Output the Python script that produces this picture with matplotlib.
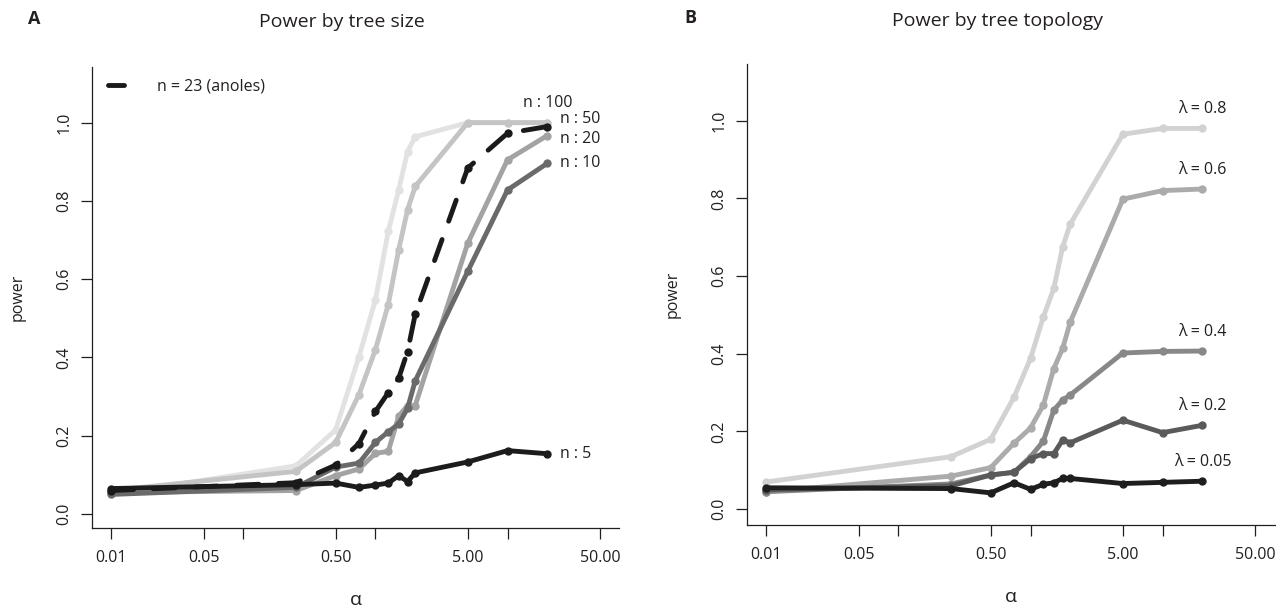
import numpy as np
import matplotlib
matplotlib.use('Agg')
import matplotlib.pyplot as plt
from matplotlib.lines import Line2D

plt.rcParams['font.family'] = ['Open Sans', 'DejaVu Sans']

# alpha values used in the simulations
alpha = [0.01, 0.25, 0.5, 0.75, 1, 1.25, 1.5, 1.75, 2, 5, 10, 20]

# panel A: power by tree size
size_labels = ['n : 100', 'n : 50', 'n : 20', 'n : 10', 'n : 5']
size_cols = ['#e2e2e2', '#c4c4c4', '#a3a3a3', '#6a6a6a', '#1c1c1c']
pow_n100 = [0.050, 0.123, 0.215, 0.402, 0.547, 0.722, 0.828, 0.926, 0.964, 1.0, 1.0, 1.0]
pow_n50 = [0.060, 0.109, 0.183, 0.305, 0.420, 0.535, 0.675, 0.777, 0.837, 1.0, 1.0, 1.0]
pow_n20 = [0.055, 0.060, 0.098, 0.115, 0.155, 0.160, 0.250, 0.277, 0.277, 0.692, 0.905, 0.967]
pow_n10 = [0.050, 0.068, 0.120, 0.130, 0.183, 0.210, 0.230, 0.270, 0.340, 0.620, 0.828, 0.896]
pow_n5 = [0.065, 0.075, 0.079, 0.068, 0.074, 0.079, 0.098, 0.083, 0.105, 0.133, 0.162, 0.154]
size_power = [pow_n100, pow_n50, pow_n20, pow_n10, pow_n5]

anoles_label = 'n = 23 (anoles)'
pow_anoles = [0.060, 0.080, 0.125, 0.180, 0.262, 0.310, 0.347, 0.415, 0.510, 0.884, 0.973, 0.990]

# panel B: power by tree topology
lam_labels = ['λ = 0.8', 'λ = 0.6', 'λ = 0.4', 'λ = 0.2', 'λ = 0.05']
lam_cols = ['#d2d2d2', '#ababab', '#888888', '#5a5a5a', '#1e1e1e']
pow_l08 = [0.070, 0.135, 0.180, 0.288, 0.388, 0.495, 0.568, 0.675, 0.734, 0.965, 0.980, 0.980]
pow_l06 = [0.045, 0.085, 0.107, 0.170, 0.209, 0.268, 0.362, 0.414, 0.482, 0.798, 0.820, 0.824]
pow_l04 = [0.045, 0.065, 0.088, 0.095, 0.135, 0.175, 0.255, 0.281, 0.294, 0.402, 0.406, 0.407]
pow_l02 = [0.050, 0.060, 0.088, 0.095, 0.130, 0.143, 0.143, 0.178, 0.171, 0.229, 0.197, 0.216]
pow_l005 = [0.055, 0.053, 0.042, 0.068, 0.051, 0.064, 0.068, 0.079, 0.079, 0.066, 0.069, 0.072]
lam_power = [pow_l08, pow_l06, pow_l04, pow_l02, pow_l005]

xticks = [0.01, 0.05, 0.1, 0.5, 1, 5, 10, 50]
xticklabels = ['0.01', '0.05', '', '0.50', '', '5.00', '', '50.00']
yticks = [0.0, 0.2, 0.4, 0.6, 0.8, 1.0]

LW = 3.5
MS = 5.0
INK = '#231f20'
FS = 11.5


def style_axes(ax, ylim):
    ax.set_xscale('log')
    ax.set_xlim(10 ** -2.148, 10 ** 1.847)
    ax.set_ylim(*ylim)
    ax.spines['top'].set_visible(False)
    ax.spines['right'].set_visible(False)
    for s in ('left', 'bottom'):
        ax.spines[s].set_linewidth(0.9)
        ax.spines[s].set_color(INK)
    ax.set_xticks(xticks)
    ax.set_xticklabels(xticklabels)
    ax.xaxis.set_minor_locator(matplotlib.ticker.NullLocator())
    ax.set_yticks(yticks)
    ax.set_yticklabels([f'{v:.1f}' for v in yticks], rotation=90, va='center')
    ax.tick_params(length=8, width=0.9, color=INK, labelsize=FS, labelcolor=INK)
    ax.tick_params(axis='x', pad=8)
    ax.tick_params(axis='y', pad=6)
    ax.text(0.5, -0.157, 'α', transform=ax.transAxes, ha='center', va='center',
            fontsize=14, color=INK)
    ax.text(-0.141, 0.5, 'power', transform=ax.transAxes, ha='center', va='center',
            rotation=90, fontsize=FS, color=INK)


fig = plt.figure(figsize=(12.76, 6.09), dpi=100)

# ---- A ----
axA = fig.add_axes([0.0719, 0.1335, 0.4135, 0.757])
style_axes(axA, (-0.035, 1.143))
# n:50 and n:20 end almost on top of each other, nudge them apart a little
nudge = {'n : 50': 2.5, 'n : 20': -2.5}
for lab, col, pw in zip(size_labels, size_cols, size_power):
    axA.plot(alpha, pw, color=col, lw=LW, marker='o', ms=MS, mec=col, mfc=col,
             solid_capstyle='round', solid_joinstyle='round', zorder=2)
    if lab == 'n : 100':
        axA.annotate(lab, (alpha[-1], pw[-1]), xytext=(0, 14), textcoords='offset points',
                     ha='center', va='center', fontsize=FS, color=INK)
    else:
        axA.annotate(lab, (alpha[-1], pw[-1]), xytext=(9, nudge.get(lab, 0)),
                     textcoords='offset points', ha='left', va='center',
                     fontsize=FS, color=INK)
axA.plot(alpha, pow_anoles, color='#1a1a1a', lw=LW, marker='o', ms=MS,
         dashes=(4.6, 4.0), dash_capstyle='round', solid_joinstyle='round', zorder=3)
proxy = Line2D([], [], color='#1a1a1a', lw=LW, solid_capstyle='round')
axA.legend([proxy], [anoles_label], loc='upper left', bbox_to_anchor=(0.03, 0.974),
           frameon=False, borderpad=0, borderaxespad=0, handlelength=1.0,
           handletextpad=2.1, fontsize=FS, labelcolor=INK)

# ---- B ----
axB = fig.add_axes([0.5852, 0.1384, 0.4137, 0.756])
style_axes(axB, (-0.04, 1.145))
for lab, col, pw in zip(lam_labels, lam_cols, lam_power):
    axB.plot(alpha, pw, color=col, lw=LW, marker='o', ms=MS, mec=col, mfc=col,
             solid_capstyle='round', solid_joinstyle='round', zorder=2)
    axB.annotate(lab, (alpha[-1], pw[-1]), xytext=(0, 14), textcoords='offset points',
                 ha='center', va='center', fontsize=FS, color=INK)

fig.text(342 / 1276, 1 - 22 / 609, 'Power by tree size', ha='center', va='center',
         fontsize=14, color=INK)
fig.text(998 / 1276, 1 - 21 / 609, 'Power by tree topology', ha='center', va='center',
         fontsize=14, color=INK)
fig.text(34 / 1276, 1 - 19 / 609, 'A', ha='center', va='center', fontsize=13,
         weight='bold', color=INK)
fig.text(690 / 1276, 1 - 18 / 609, 'B', ha='center', va='center', fontsize=13,
         weight='bold', color=INK)

fig.savefig('out.png', dpi=100)
